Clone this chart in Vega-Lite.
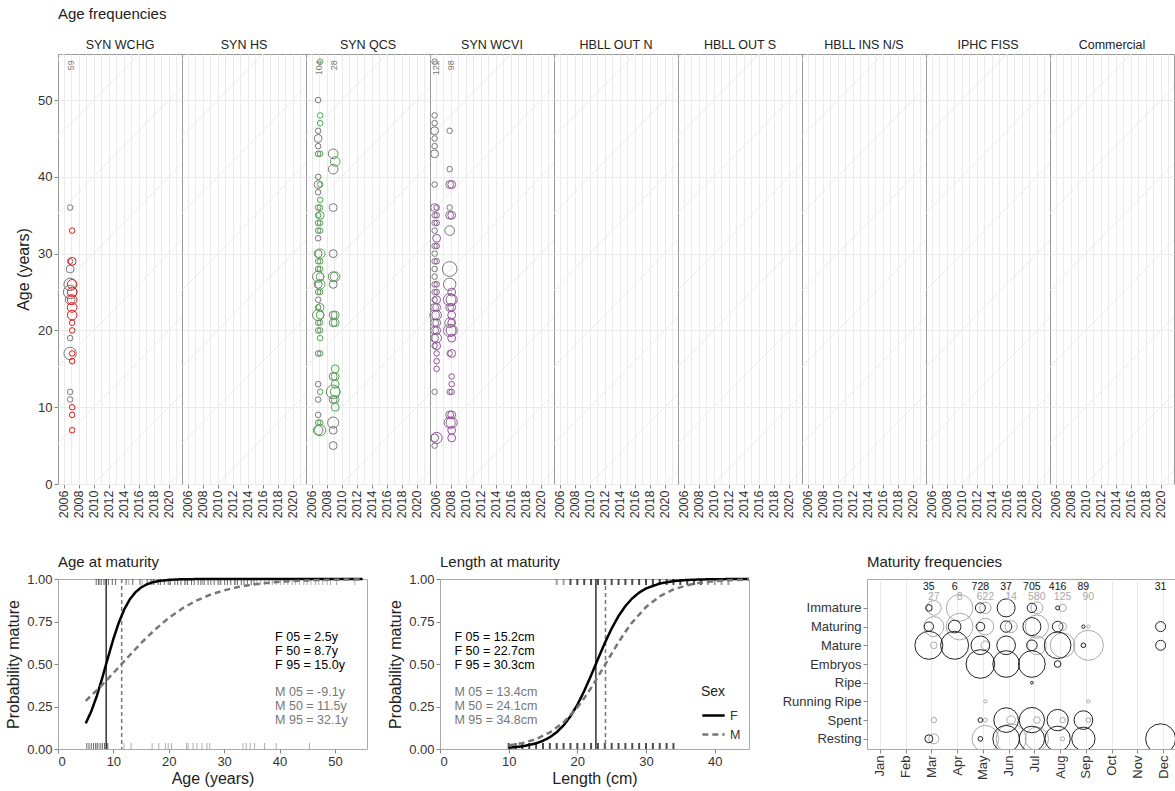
{
  "$schema": "https://vega.github.io/schema/vega-lite/v6.json",
  "background": "white",
  "padding": {"left": 5, "top": 6, "right": 0, "bottom": 0},
  "config": {
    "font": "Liberation Sans",
    "view": {"stroke": "#999999", "strokeWidth": 1},
    "axis": {"domain": false, "tickColor": "#888888", "tickSize": 4, "labelColor": "#333333", "labelFontSize": 13, "titleFontSize": 16, "titleFontWeight": "normal", "titleColor": "#222222", "gridColor": "#EBEBEB", "labelPadding": 2, "titlePadding": 5, "labelOverlap": false},
    "title": {"fontSize": 15, "fontWeight": "normal", "color": "#222222", "anchor": "start", "frame": "group", "offset": 3},
    "header": {"labelFontSize": 12.5, "labelColor": "#222222", "labelPadding": 3},
    "legend": {"symbolType": "stroke", "symbolStrokeWidth": 2.5, "symbolSize": 500, "labelFontSize": 12.5, "labelColor": "#333333", "titleFontSize": 14, "titleFontWeight": "normal", "titleColor": "#222222", "rowPadding": 0, "titlePadding": 4}
  },
  "datasets": {
    "ages": [
      {"s":"SYN HS"},{"s":"HBLL OUT N"},{"s":"HBLL OUT S"},{"s":"HBLL INS N/S"},{"s":"IPHC FISS"},{"s":"Commercial"},
      {"s":"SYN WCHG","year":2007,"total":59},
      {"s":"SYN QCS","year":2007,"total":104},
      {"s":"SYN QCS","year":2009,"total":28},
      {"s":"SYN WCVI","year":2006,"total":122},
      {"s":"SYN WCVI","year":2008,"total":98},
      {"s":"SYN WCHG","sex":"M","year":2007,"age":36,"n":1},
      {"s":"SYN WCHG","sex":"M","year":2007,"age":29,"n":1},
      {"s":"SYN WCHG","sex":"M","year":2007,"age":28,"n":2},
      {"s":"SYN WCHG","sex":"M","year":2007,"age":26,"n":5},
      {"s":"SYN WCHG","sex":"M","year":2007,"age":25,"n":6},
      {"s":"SYN WCHG","sex":"M","year":2007,"age":24,"n":3},
      {"s":"SYN WCHG","sex":"M","year":2007,"age":19,"n":1},
      {"s":"SYN WCHG","sex":"M","year":2007,"age":17,"n":5},
      {"s":"SYN WCHG","sex":"M","year":2007,"age":12,"n":1},
      {"s":"SYN WCHG","sex":"M","year":2007,"age":11,"n":1},
      {"s":"SYN WCHG","sex":"F","year":2007,"age":33,"n":1},
      {"s":"SYN WCHG","sex":"F","year":2007,"age":29,"n":2},
      {"s":"SYN WCHG","sex":"F","year":2007,"age":26,"n":3},
      {"s":"SYN WCHG","sex":"F","year":2007,"age":25,"n":3},
      {"s":"SYN WCHG","sex":"F","year":2007,"age":24,"n":3},
      {"s":"SYN WCHG","sex":"F","year":2007,"age":23,"n":3},
      {"s":"SYN WCHG","sex":"F","year":2007,"age":22,"n":3},
      {"s":"SYN WCHG","sex":"F","year":2007,"age":21,"n":1},
      {"s":"SYN WCHG","sex":"F","year":2007,"age":20,"n":1},
      {"s":"SYN WCHG","sex":"F","year":2007,"age":17,"n":1},
      {"s":"SYN WCHG","sex":"F","year":2007,"age":16,"n":1},
      {"s":"SYN WCHG","sex":"F","year":2007,"age":10,"n":1},
      {"s":"SYN WCHG","sex":"F","year":2007,"age":9,"n":1},
      {"s":"SYN WCHG","sex":"F","year":2007,"age":7,"n":1},
      {"s":"SYN QCS","sex":"M","year":2007,"age":50,"n":1},
      {"s":"SYN QCS","sex":"M","year":2007,"age":46,"n":1},
      {"s":"SYN QCS","sex":"M","year":2007,"age":45,"n":2},
      {"s":"SYN QCS","sex":"M","year":2007,"age":44,"n":1},
      {"s":"SYN QCS","sex":"M","year":2007,"age":43,"n":1},
      {"s":"SYN QCS","sex":"M","year":2007,"age":40,"n":1},
      {"s":"SYN QCS","sex":"M","year":2007,"age":39,"n":2},
      {"s":"SYN QCS","sex":"M","year":2007,"age":38,"n":1},
      {"s":"SYN QCS","sex":"M","year":2007,"age":36,"n":1},
      {"s":"SYN QCS","sex":"M","year":2007,"age":35,"n":1},
      {"s":"SYN QCS","sex":"M","year":2007,"age":34,"n":1},
      {"s":"SYN QCS","sex":"M","year":2007,"age":33,"n":1},
      {"s":"SYN QCS","sex":"M","year":2007,"age":32,"n":1},
      {"s":"SYN QCS","sex":"M","year":2007,"age":30,"n":2},
      {"s":"SYN QCS","sex":"M","year":2007,"age":29,"n":1},
      {"s":"SYN QCS","sex":"M","year":2007,"age":28,"n":1},
      {"s":"SYN QCS","sex":"M","year":2007,"age":27,"n":4},
      {"s":"SYN QCS","sex":"M","year":2007,"age":26,"n":2},
      {"s":"SYN QCS","sex":"M","year":2007,"age":25,"n":1},
      {"s":"SYN QCS","sex":"M","year":2007,"age":24,"n":1},
      {"s":"SYN QCS","sex":"M","year":2007,"age":23,"n":1},
      {"s":"SYN QCS","sex":"M","year":2007,"age":22,"n":4},
      {"s":"SYN QCS","sex":"M","year":2007,"age":21,"n":1},
      {"s":"SYN QCS","sex":"M","year":2007,"age":20,"n":1},
      {"s":"SYN QCS","sex":"M","year":2007,"age":17,"n":1},
      {"s":"SYN QCS","sex":"M","year":2007,"age":13,"n":1},
      {"s":"SYN QCS","sex":"M","year":2007,"age":11,"n":1},
      {"s":"SYN QCS","sex":"M","year":2007,"age":9,"n":1},
      {"s":"SYN QCS","sex":"M","year":2007,"age":8,"n":1},
      {"s":"SYN QCS","sex":"M","year":2007,"age":7,"n":3},
      {"s":"SYN QCS","sex":"F","year":2007,"age":55,"n":1},
      {"s":"SYN QCS","sex":"F","year":2007,"age":48,"n":1},
      {"s":"SYN QCS","sex":"F","year":2007,"age":47,"n":1},
      {"s":"SYN QCS","sex":"F","year":2007,"age":43,"n":1},
      {"s":"SYN QCS","sex":"F","year":2007,"age":39,"n":1},
      {"s":"SYN QCS","sex":"F","year":2007,"age":37,"n":1},
      {"s":"SYN QCS","sex":"F","year":2007,"age":36,"n":1},
      {"s":"SYN QCS","sex":"F","year":2007,"age":35,"n":2},
      {"s":"SYN QCS","sex":"F","year":2007,"age":34,"n":1},
      {"s":"SYN QCS","sex":"F","year":2007,"age":33,"n":1},
      {"s":"SYN QCS","sex":"F","year":2007,"age":30,"n":3},
      {"s":"SYN QCS","sex":"F","year":2007,"age":29,"n":1},
      {"s":"SYN QCS","sex":"F","year":2007,"age":28,"n":1},
      {"s":"SYN QCS","sex":"F","year":2007,"age":27,"n":2},
      {"s":"SYN QCS","sex":"F","year":2007,"age":26,"n":3},
      {"s":"SYN QCS","sex":"F","year":2007,"age":25,"n":1},
      {"s":"SYN QCS","sex":"F","year":2007,"age":23,"n":2},
      {"s":"SYN QCS","sex":"F","year":2007,"age":22,"n":2},
      {"s":"SYN QCS","sex":"F","year":2007,"age":21,"n":1},
      {"s":"SYN QCS","sex":"F","year":2007,"age":20,"n":1},
      {"s":"SYN QCS","sex":"F","year":2007,"age":19,"n":1},
      {"s":"SYN QCS","sex":"F","year":2007,"age":17,"n":1},
      {"s":"SYN QCS","sex":"F","year":2007,"age":12,"n":1},
      {"s":"SYN QCS","sex":"F","year":2007,"age":8,"n":1},
      {"s":"SYN QCS","sex":"F","year":2007,"age":7,"n":4},
      {"s":"SYN QCS","sex":"M","year":2009,"age":43,"n":3},
      {"s":"SYN QCS","sex":"M","year":2009,"age":41,"n":3},
      {"s":"SYN QCS","sex":"M","year":2009,"age":36,"n":2},
      {"s":"SYN QCS","sex":"M","year":2009,"age":30,"n":2},
      {"s":"SYN QCS","sex":"M","year":2009,"age":27,"n":3},
      {"s":"SYN QCS","sex":"M","year":2009,"age":26,"n":2},
      {"s":"SYN QCS","sex":"M","year":2009,"age":22,"n":2},
      {"s":"SYN QCS","sex":"M","year":2009,"age":21,"n":2},
      {"s":"SYN QCS","sex":"M","year":2009,"age":14,"n":2},
      {"s":"SYN QCS","sex":"M","year":2009,"age":12,"n":6},
      {"s":"SYN QCS","sex":"M","year":2009,"age":11,"n":2},
      {"s":"SYN QCS","sex":"M","year":2009,"age":8,"n":4},
      {"s":"SYN QCS","sex":"M","year":2009,"age":7,"n":2},
      {"s":"SYN QCS","sex":"M","year":2009,"age":5,"n":2},
      {"s":"SYN QCS","sex":"F","year":2009,"age":42,"n":3},
      {"s":"SYN QCS","sex":"F","year":2009,"age":27,"n":3},
      {"s":"SYN QCS","sex":"F","year":2009,"age":22,"n":2},
      {"s":"SYN QCS","sex":"F","year":2009,"age":21,"n":2},
      {"s":"SYN QCS","sex":"F","year":2009,"age":15,"n":2},
      {"s":"SYN QCS","sex":"F","year":2009,"age":14,"n":2},
      {"s":"SYN QCS","sex":"F","year":2009,"age":13,"n":2},
      {"s":"SYN QCS","sex":"F","year":2009,"age":12,"n":3},
      {"s":"SYN QCS","sex":"F","year":2009,"age":11,"n":2},
      {"s":"SYN QCS","sex":"F","year":2009,"age":10,"n":2},
      {"s":"SYN WCVI","sex":"M","year":2006,"age":55,"n":1},
      {"s":"SYN WCVI","sex":"M","year":2006,"age":48,"n":1},
      {"s":"SYN WCVI","sex":"M","year":2006,"age":47,"n":1},
      {"s":"SYN WCVI","sex":"M","year":2006,"age":46,"n":2},
      {"s":"SYN WCVI","sex":"M","year":2006,"age":45,"n":1},
      {"s":"SYN WCVI","sex":"M","year":2006,"age":44,"n":1},
      {"s":"SYN WCVI","sex":"M","year":2006,"age":43,"n":2},
      {"s":"SYN WCVI","sex":"M","year":2006,"age":39,"n":1},
      {"s":"SYN WCVI","sex":"M","year":2006,"age":36,"n":2},
      {"s":"SYN WCVI","sex":"M","year":2006,"age":35,"n":1},
      {"s":"SYN WCVI","sex":"M","year":2006,"age":34,"n":1},
      {"s":"SYN WCVI","sex":"M","year":2006,"age":33,"n":1},
      {"s":"SYN WCVI","sex":"M","year":2006,"age":31,"n":1},
      {"s":"SYN WCVI","sex":"M","year":2006,"age":30,"n":1},
      {"s":"SYN WCVI","sex":"M","year":2006,"age":29,"n":1},
      {"s":"SYN WCVI","sex":"M","year":2006,"age":28,"n":1},
      {"s":"SYN WCVI","sex":"M","year":2006,"age":27,"n":1},
      {"s":"SYN WCVI","sex":"M","year":2006,"age":26,"n":1},
      {"s":"SYN WCVI","sex":"M","year":2006,"age":25,"n":1},
      {"s":"SYN WCVI","sex":"M","year":2006,"age":24,"n":1},
      {"s":"SYN WCVI","sex":"M","year":2006,"age":23,"n":2},
      {"s":"SYN WCVI","sex":"M","year":2006,"age":22,"n":3},
      {"s":"SYN WCVI","sex":"M","year":2006,"age":21,"n":2},
      {"s":"SYN WCVI","sex":"M","year":2006,"age":20,"n":2},
      {"s":"SYN WCVI","sex":"M","year":2006,"age":19,"n":2},
      {"s":"SYN WCVI","sex":"M","year":2006,"age":18,"n":1},
      {"s":"SYN WCVI","sex":"M","year":2006,"age":12,"n":1},
      {"s":"SYN WCVI","sex":"M","year":2006,"age":6,"n":2},
      {"s":"SYN WCVI","sex":"M","year":2006,"age":5,"n":1},
      {"s":"SYN WCVI","sex":"F","year":2006,"age":36,"n":1},
      {"s":"SYN WCVI","sex":"F","year":2006,"age":35,"n":1},
      {"s":"SYN WCVI","sex":"F","year":2006,"age":34,"n":1},
      {"s":"SYN WCVI","sex":"F","year":2006,"age":32,"n":2},
      {"s":"SYN WCVI","sex":"F","year":2006,"age":31,"n":1},
      {"s":"SYN WCVI","sex":"F","year":2006,"age":29,"n":1},
      {"s":"SYN WCVI","sex":"F","year":2006,"age":26,"n":1},
      {"s":"SYN WCVI","sex":"F","year":2006,"age":25,"n":1},
      {"s":"SYN WCVI","sex":"F","year":2006,"age":24,"n":2},
      {"s":"SYN WCVI","sex":"F","year":2006,"age":23,"n":2},
      {"s":"SYN WCVI","sex":"F","year":2006,"age":22,"n":3},
      {"s":"SYN WCVI","sex":"F","year":2006,"age":21,"n":2},
      {"s":"SYN WCVI","sex":"F","year":2006,"age":20,"n":2},
      {"s":"SYN WCVI","sex":"F","year":2006,"age":19,"n":3},
      {"s":"SYN WCVI","sex":"F","year":2006,"age":18,"n":2},
      {"s":"SYN WCVI","sex":"F","year":2006,"age":17,"n":1},
      {"s":"SYN WCVI","sex":"F","year":2006,"age":16,"n":1},
      {"s":"SYN WCVI","sex":"F","year":2006,"age":15,"n":1},
      {"s":"SYN WCVI","sex":"F","year":2006,"age":6,"n":4},
      {"s":"SYN WCVI","sex":"M","year":2008,"age":46,"n":1},
      {"s":"SYN WCVI","sex":"M","year":2008,"age":41,"n":1},
      {"s":"SYN WCVI","sex":"M","year":2008,"age":39,"n":2},
      {"s":"SYN WCVI","sex":"M","year":2008,"age":36,"n":1},
      {"s":"SYN WCVI","sex":"M","year":2008,"age":35,"n":2},
      {"s":"SYN WCVI","sex":"M","year":2008,"age":33,"n":3},
      {"s":"SYN WCVI","sex":"M","year":2008,"age":28,"n":7},
      {"s":"SYN WCVI","sex":"M","year":2008,"age":26,"n":5},
      {"s":"SYN WCVI","sex":"M","year":2008,"age":24,"n":5},
      {"s":"SYN WCVI","sex":"M","year":2008,"age":23,"n":2},
      {"s":"SYN WCVI","sex":"M","year":2008,"age":21,"n":3},
      {"s":"SYN WCVI","sex":"M","year":2008,"age":20,"n":5},
      {"s":"SYN WCVI","sex":"M","year":2008,"age":17,"n":1},
      {"s":"SYN WCVI","sex":"M","year":2008,"age":12,"n":1},
      {"s":"SYN WCVI","sex":"M","year":2008,"age":9,"n":2},
      {"s":"SYN WCVI","sex":"M","year":2008,"age":8,"n":4},
      {"s":"SYN WCVI","sex":"F","year":2008,"age":39,"n":2},
      {"s":"SYN WCVI","sex":"F","year":2008,"age":35,"n":2},
      {"s":"SYN WCVI","sex":"F","year":2008,"age":25,"n":2},
      {"s":"SYN WCVI","sex":"F","year":2008,"age":24,"n":4},
      {"s":"SYN WCVI","sex":"F","year":2008,"age":23,"n":2},
      {"s":"SYN WCVI","sex":"F","year":2008,"age":22,"n":2},
      {"s":"SYN WCVI","sex":"F","year":2008,"age":21,"n":2},
      {"s":"SYN WCVI","sex":"F","year":2008,"age":20,"n":4},
      {"s":"SYN WCVI","sex":"F","year":2008,"age":19,"n":2},
      {"s":"SYN WCVI","sex":"F","year":2008,"age":17,"n":2},
      {"s":"SYN WCVI","sex":"F","year":2008,"age":14,"n":1},
      {"s":"SYN WCVI","sex":"F","year":2008,"age":13,"n":1},
      {"s":"SYN WCVI","sex":"F","year":2008,"age":12,"n":1},
      {"s":"SYN WCVI","sex":"F","year":2008,"age":9,"n":2},
      {"s":"SYN WCVI","sex":"F","year":2008,"age":8,"n":4},
      {"s":"SYN WCVI","sex":"F","year":2008,"age":7,"n":2},
      {"s":"SYN WCVI","sex":"F","year":2008,"age":6,"n":2}
    ],
    "cohorts": [
      {"c":1950,"x1":2005,"a1":55,"x2":2022,"a2":72},
      {"c":1960,"x1":2005,"a1":45,"x2":2022,"a2":62},
      {"c":1970,"x1":2005,"a1":35,"x2":2022,"a2":52},
      {"c":1980,"x1":2005,"a1":25,"x2":2022,"a2":42},
      {"c":1990,"x1":2005,"a1":15,"x2":2022,"a2":32},
      {"c":2000,"x1":2005,"a1":5,"x2":2022,"a2":22},
      {"c":2010,"x1":2005,"a1":-5,"x2":2022,"a2":12},
      {"c":2020,"x1":2005,"a1":-15,"x2":2022,"a2":2}
    ],
    "ageCurve": [
      {"sex":"F","x":5,"p":0.1507},{"sex":"F","x":6,"p":0.2207},{"sex":"F","x":7,"p":0.3112},{"sex":"F","x":8,"p":0.4189},{"sex":"F","x":9,"p":0.535},{"sex":"F","x":10,"p":0.6472},{"sex":"F","x":11,"p":0.7455},{"sex":"F","x":12,"p":0.8237},{"sex":"F","x":13,"p":0.8818},{"sex":"F","x":14,"p":0.9225},{"sex":"F","x":15,"p":0.95},{"sex":"F","x":16,"p":0.968},{"sex":"F","x":17,"p":0.9797},{"sex":"F","x":18,"p":0.9872},{"sex":"F","x":20,"p":0.9949},{"sex":"F","x":22,"p":0.998},{"sex":"F","x":25,"p":0.9995},{"sex":"F","x":30,"p":1},{"sex":"F","x":55,"p":1},
      {"sex":"M","x":5,"p":0.2831},{"sex":"M","x":7.5,"p":0.3609},{"sex":"M","x":10,"p":0.4466},{"sex":"M","x":12.5,"p":0.5357},{"sex":"M","x":15,"p":0.6225},{"sex":"M","x":17.5,"p":0.702},{"sex":"M","x":20,"p":0.7711},{"sex":"M","x":22.5,"p":0.828},{"sex":"M","x":25,"p":0.8731},{"sex":"M","x":27.5,"p":0.9077},{"sex":"M","x":30,"p":0.9336},{"sex":"M","x":32.5,"p":0.9527},{"sex":"M","x":35,"p":0.9664},{"sex":"M","x":37.5,"p":0.9762},{"sex":"M","x":40,"p":0.9833},{"sex":"M","x":42.5,"p":0.9882},{"sex":"M","x":45,"p":0.9917},{"sex":"M","x":47.5,"p":0.9942},{"sex":"M","x":50,"p":0.9959},{"sex":"M","x":52.5,"p":0.9972},{"sex":"M","x":55,"p":0.998}
    ],
    "lenCurve": [
      {"sex":"F","x":10,"p":0.0073},{"sex":"F","x":12,"p":0.0156},{"sex":"F","x":14,"p":0.0333},{"sex":"F","x":15,"p":0.0482},{"sex":"F","x":16,"p":0.0694},{"sex":"F","x":17,"p":0.099},{"sex":"F","x":18,"p":0.1393},{"sex":"F","x":19,"p":0.1926},{"sex":"F","x":20,"p":0.26},{"sex":"F","x":21,"p":0.3411},{"sex":"F","x":22,"p":0.4326},{"sex":"F","x":23,"p":0.529},{"sex":"F","x":24,"p":0.6233},{"sex":"F","x":25,"p":0.7091},{"sex":"F","x":26,"p":0.7822},{"sex":"F","x":27,"p":0.841},{"sex":"F","x":28,"p":0.8863},{"sex":"F","x":29,"p":0.9199},{"sex":"F","x":30,"p":0.9442},{"sex":"F","x":32,"p":0.9735},{"sex":"F","x":34,"p":0.9876},{"sex":"F","x":36,"p":0.9942},{"sex":"F","x":38,"p":0.9973},{"sex":"F","x":40,"p":0.9988},{"sex":"F","x":42,"p":0.9994},{"sex":"F","x":45,"p":0.9998},
      {"sex":"M","x":10,"p":0.0202},{"sex":"M","x":12,"p":0.0346},{"sex":"M","x":14,"p":0.0584},{"sex":"M","x":16,"p":0.0972},{"sex":"M","x":18,"p":0.1573},{"sex":"M","x":20,"p":0.2445},{"sex":"M","x":21,"p":0.2988},{"sex":"M","x":22,"p":0.3594},{"sex":"M","x":23,"p":0.4249},{"sex":"M","x":24,"p":0.4931},{"sex":"M","x":25,"p":0.5617},{"sex":"M","x":26,"p":0.6278},{"sex":"M","x":27,"p":0.6896},{"sex":"M","x":28,"p":0.7452},{"sex":"M","x":30,"p":0.8353},{"sex":"M","x":32,"p":0.8979},{"sex":"M","x":34,"p":0.9384},{"sex":"M","x":36,"p":0.9636},{"sex":"M","x":38,"p":0.9787},{"sex":"M","x":40,"p":0.9876},{"sex":"M","x":42,"p":0.9928},{"sex":"M","x":45,"p":0.9968}
    ],
    "ageRug": [
      {"sex":"F","p":1,"x":6.9},{"sex":"F","p":1,"x":7.3},{"sex":"F","p":1,"x":7.8},{"sex":"F","p":1,"x":8.3},{"sex":"F","p":1,"x":9.1},{"sex":"F","p":1,"x":9.8},{"sex":"F","p":1,"x":10.4},{"sex":"F","p":1,"x":12.3},{"sex":"F","p":1,"x":13.5},{"sex":"F","p":1,"x":14.8},{"sex":"F","p":1,"x":16.1},{"sex":"F","p":1,"x":16.8},{"sex":"F","p":1,"x":17.3},{"sex":"F","p":1,"x":18.1},{"sex":"F","p":1,"x":18.5},{"sex":"F","p":1,"x":19.2},{"sex":"F","p":1,"x":19.9},{"sex":"F","p":1,"x":20.3},{"sex":"F","p":1,"x":21.1},{"sex":"F","p":1,"x":21.6},{"sex":"F","p":1,"x":22.2},{"sex":"F","p":1,"x":22.9},{"sex":"F","p":1,"x":23.4},{"sex":"F","p":1,"x":24.1},{"sex":"F","p":1,"x":24.6},{"sex":"F","p":1,"x":25.3},{"sex":"F","p":1,"x":25.8},{"sex":"F","p":1,"x":26.4},{"sex":"F","p":1,"x":27.1},{"sex":"F","p":1,"x":27.6},{"sex":"F","p":1,"x":28.2},{"sex":"F","p":1,"x":28.9},{"sex":"F","p":1,"x":29.4},{"sex":"F","p":1,"x":30.1},{"sex":"F","p":1,"x":30.6},{"sex":"F","p":1,"x":31.2},{"sex":"F","p":1,"x":31.9},{"sex":"F","p":1,"x":32.4},{"sex":"F","p":1,"x":33.1},{"sex":"F","p":1,"x":33.6},{"sex":"F","p":1,"x":34.2},{"sex":"F","p":1,"x":34.9},{"sex":"F","p":1,"x":35.4},
      {"sex":"M","p":1,"x":7.5},{"sex":"M","p":1,"x":8.7},{"sex":"M","p":1,"x":12.8},{"sex":"M","p":1,"x":15.2},{"sex":"M","p":1,"x":17.1},{"sex":"M","p":1,"x":20.1},{"sex":"M","p":1,"x":23.1},{"sex":"M","p":1,"x":26.1},{"sex":"M","p":1,"x":29.1},{"sex":"M","p":1,"x":32.1},{"sex":"M","p":1,"x":35.9},{"sex":"M","p":1,"x":36.6},{"sex":"M","p":1,"x":37.3},{"sex":"M","p":1,"x":38.1},{"sex":"M","p":1,"x":38.7},{"sex":"M","p":1,"x":39.4},{"sex":"M","p":1,"x":40.2},{"sex":"M","p":1,"x":40.8},{"sex":"M","p":1,"x":41.5},{"sex":"M","p":1,"x":42.3},{"sex":"M","p":1,"x":42.9},{"sex":"M","p":1,"x":43.6},{"sex":"M","p":1,"x":44.4},{"sex":"M","p":1,"x":45.0},{"sex":"M","p":1,"x":45.7},{"sex":"M","p":1,"x":46.5},{"sex":"M","p":1,"x":47.1},{"sex":"M","p":1,"x":47.8},{"sex":"M","p":1,"x":48.6},{"sex":"M","p":1,"x":49.2},{"sex":"M","p":1,"x":50.3},{"sex":"M","p":1,"x":53.6},
      {"sex":"F","p":0,"x":5.2},{"sex":"F","p":0,"x":5.6},{"sex":"F","p":0,"x":6.0},{"sex":"F","p":0,"x":6.4},{"sex":"F","p":0,"x":6.8},{"sex":"F","p":0,"x":7.2},{"sex":"F","p":0,"x":7.6},{"sex":"F","p":0,"x":8.0},{"sex":"F","p":0,"x":8.4},{"sex":"F","p":0,"x":8.8},{"sex":"F","p":0,"x":9.0},
      {"sex":"M","p":0,"x":7.0},{"sex":"M","p":0,"x":8.0},{"sex":"M","p":0,"x":11.9},{"sex":"M","p":0,"x":13.2},{"sex":"M","p":0,"x":17.0},{"sex":"M","p":0,"x":18.2},{"sex":"M","p":0,"x":19.4},{"sex":"M","p":0,"x":19.9},{"sex":"M","p":0,"x":20.5},{"sex":"M","p":0,"x":23.2},{"sex":"M","p":0,"x":23.5},{"sex":"M","p":0,"x":24.4},{"sex":"M","p":0,"x":25.1},{"sex":"M","p":0,"x":26.0},{"sex":"M","p":0,"x":26.9},{"sex":"M","p":0,"x":27.4},{"sex":"M","p":0,"x":33.4},{"sex":"M","p":0,"x":34.0},{"sex":"M","p":0,"x":34.7},{"sex":"M","p":0,"x":35.5},{"sex":"M","p":0,"x":37.3},{"sex":"M","p":0,"x":39.4},{"sex":"M","p":0,"x":45.4}
    ],
    "lenRug": [
      {"sex":"F","p":1,"x":19},{"sex":"F","p":1,"x":20},{"sex":"F","p":1,"x":21},{"sex":"F","p":1,"x":22},{"sex":"F","p":1,"x":23},{"sex":"F","p":1,"x":24},{"sex":"F","p":1,"x":25},{"sex":"F","p":1,"x":26},{"sex":"F","p":1,"x":27},{"sex":"F","p":1,"x":28},{"sex":"F","p":1,"x":29},{"sex":"F","p":1,"x":30},{"sex":"F","p":1,"x":31},{"sex":"F","p":1,"x":32},{"sex":"F","p":1,"x":33},{"sex":"F","p":1,"x":34},{"sex":"F","p":1,"x":35},{"sex":"F","p":1,"x":36},{"sex":"F","p":1,"x":37},{"sex":"F","p":1,"x":38},
      {"sex":"M","p":1,"x":17},{"sex":"M","p":1,"x":18},{"sex":"M","p":1,"x":39},{"sex":"M","p":1,"x":40},{"sex":"M","p":1,"x":41},{"sex":"M","p":1,"x":42},
      {"sex":"F","p":0,"x":10},{"sex":"F","p":0,"x":11},{"sex":"F","p":0,"x":12},{"sex":"F","p":0,"x":13},{"sex":"F","p":0,"x":14},{"sex":"F","p":0,"x":15},{"sex":"F","p":0,"x":16},{"sex":"F","p":0,"x":17},{"sex":"F","p":0,"x":18},{"sex":"F","p":0,"x":19},{"sex":"F","p":0,"x":20},{"sex":"F","p":0,"x":21},{"sex":"F","p":0,"x":22},{"sex":"F","p":0,"x":23},{"sex":"F","p":0,"x":24},{"sex":"F","p":0,"x":25},{"sex":"F","p":0,"x":26},{"sex":"F","p":0,"x":27},{"sex":"F","p":0,"x":28},{"sex":"F","p":0,"x":29},{"sex":"F","p":0,"x":30},{"sex":"F","p":0,"x":31},{"sex":"F","p":0,"x":32},{"sex":"F","p":0,"x":33},{"sex":"F","p":0,"x":34}
    ],
    "ageV": [{"sex":"F","x":8.7},{"sex":"M","x":11.5}],
    "lenV": [{"sex":"F","x":22.7},{"sex":"M","x":24.1}],
    "ageAnn": [
      {"sex":"F","x":39.2,"p":0.66,"label":"F 05 = 2.5y"},
      {"sex":"F","x":39.2,"p":0.578,"label":"F 50 = 8.7y"},
      {"sex":"F","x":39.2,"p":0.496,"label":"F 95 = 15.0y"},
      {"sex":"M","x":39.2,"p":0.335,"label":"M 05 = -9.1y"},
      {"sex":"M","x":39.2,"p":0.253,"label":"M 50 = 11.5y"},
      {"sex":"M","x":39.2,"p":0.171,"label":"M 95 = 32.1y"}
    ],
    "lenAnn": [
      {"sex":"F","x":2.1,"p":0.66,"label":"F 05 = 15.2cm"},
      {"sex":"F","x":2.1,"p":0.578,"label":"F 50 = 22.7cm"},
      {"sex":"F","x":2.1,"p":0.496,"label":"F 95 = 30.3cm"},
      {"sex":"M","x":2.1,"p":0.335,"label":"M 05 = 13.4cm"},
      {"sex":"M","x":2.1,"p":0.253,"label":"M 50 = 24.1cm"},
      {"sex":"M","x":2.1,"p":0.171,"label":"M 95 = 34.8cm"}
    ],
    "matc": [
      {"m":3,"sex":"M","stage":"Immature","prop":0.239},{"m":3,"sex":"M","stage":"Maturing","prop":0.444},{"m":3,"sex":"M","stage":"Mature","prop":0.049},{"m":3,"sex":"M","stage":"Spent","prop":0.032},{"m":3,"sex":"M","stage":"Resting","prop":0.111},
      {"m":4,"sex":"M","stage":"Immature","prop":0.79},{"m":4,"sex":"M","stage":"Maturing","prop":0.79},
      {"m":5,"sex":"M","stage":"Immature","prop":0.143},{"m":5,"sex":"M","stage":"Maturing","prop":0.309},{"m":5,"sex":"M","stage":"Mature","prop":0.083},{"m":5,"sex":"M","stage":"Running Ripe","prop":0.012},{"m":5,"sex":"M","stage":"Spent","prop":0.018},{"m":5,"sex":"M","stage":"Resting","prop":0.79},
      {"m":6,"sex":"M","stage":"Maturing","prop":0.16},{"m":6,"sex":"M","stage":"Spent","prop":0.083},{"m":6,"sex":"M","stage":"Resting","prop":1.0},
      {"m":7,"sex":"M","stage":"Immature","prop":0.16},{"m":7,"sex":"M","stage":"Maturing","prop":0.605},{"m":7,"sex":"M","stage":"Mature","prop":0.387},{"m":7,"sex":"M","stage":"Spent","prop":0.049},{"m":7,"sex":"M","stage":"Resting","prop":0.605},
      {"m":8,"sex":"M","stage":"Immature","prop":0.06},{"m":8,"sex":"M","stage":"Maturing","prop":0.071},{"m":8,"sex":"M","stage":"Mature","prop":0.676},{"m":8,"sex":"M","stage":"Spent","prop":0.032},{"m":8,"sex":"M","stage":"Resting","prop":0.018},
      {"m":9,"sex":"M","stage":"Maturing","prop":0.012},{"m":9,"sex":"M","stage":"Mature","prop":1.0},{"m":9,"sex":"M","stage":"Running Ripe","prop":0.012},{"m":9,"sex":"M","stage":"Spent","prop":0.024},
      {"m":3,"sex":"F","stage":"Immature","prop":0.049},{"m":3,"sex":"F","stage":"Maturing","prop":0.097},{"m":3,"sex":"F","stage":"Mature","prop":0.871},{"m":3,"sex":"F","stage":"Resting","prop":0.071},
      {"m":4,"sex":"F","stage":"Maturing","prop":0.178},{"m":4,"sex":"F","stage":"Mature","prop":0.871},
      {"m":5,"sex":"F","stage":"Immature","prop":0.111},{"m":5,"sex":"F","stage":"Maturing","prop":0.083},{"m":5,"sex":"F","stage":"Mature","prop":0.387},{"m":5,"sex":"F","stage":"Embryos","prop":0.913},{"m":5,"sex":"F","stage":"Spent","prop":0.024},{"m":5,"sex":"F","stage":"Resting","prop":0.024},
      {"m":6,"sex":"F","stage":"Immature","prop":0.36},{"m":6,"sex":"F","stage":"Maturing","prop":0.143},{"m":6,"sex":"F","stage":"Mature","prop":0.387},{"m":6,"sex":"F","stage":"Embryos","prop":0.79},{"m":6,"sex":"F","stage":"Spent","prop":0.676},{"m":6,"sex":"F","stage":"Resting","prop":0.79},
      {"m":7,"sex":"F","stage":"Immature","prop":0.097},{"m":7,"sex":"F","stage":"Maturing","prop":0.36},{"m":7,"sex":"F","stage":"Mature","prop":0.126},{"m":7,"sex":"F","stage":"Embryos","prop":0.79},{"m":7,"sex":"F","stage":"Ripe","prop":0.008},{"m":7,"sex":"F","stage":"Spent","prop":0.713},{"m":7,"sex":"F","stage":"Resting","prop":0.713},
      {"m":8,"sex":"F","stage":"Immature","prop":0.018},{"m":8,"sex":"F","stage":"Maturing","prop":0.126},{"m":8,"sex":"F","stage":"Mature","prop":0.79},{"m":8,"sex":"F","stage":"Embryos","prop":0.049},{"m":8,"sex":"F","stage":"Spent","prop":0.506},{"m":8,"sex":"F","stage":"Resting","prop":0.713},
      {"m":9,"sex":"F","stage":"Maturing","prop":0.012},{"m":9,"sex":"F","stage":"Mature","prop":0.024},{"m":9,"sex":"F","stage":"Spent","prop":0.387},{"m":9,"sex":"F","stage":"Resting","prop":0.605},
      {"m":12,"sex":"F","stage":"Maturing","prop":0.111},{"m":12,"sex":"F","stage":"Mature","prop":0.111},{"m":12,"sex":"F","stage":"Resting","prop":1.0}
    ],
    "matn": [
      {"m":3,"sex":"F","n":35},{"m":4,"sex":"F","n":6},{"m":5,"sex":"F","n":728},{"m":6,"sex":"F","n":37},{"m":7,"sex":"F","n":705},{"m":8,"sex":"F","n":416},{"m":9,"sex":"F","n":89},{"m":12,"sex":"F","n":31},
      {"m":3,"sex":"M","n":27},{"m":4,"sex":"M","n":8},{"m":5,"sex":"M","n":622},{"m":6,"sex":"M","n":14},{"m":7,"sex":"M","n":580},{"m":8,"sex":"M","n":125},{"m":9,"sex":"M","n":90}
    ]
  },
  "vconcat": [
    {
      "title": {"text": "Age frequencies", "offset": 17},
      "data": {"name": "ages"},
      "facet": {"column": {"field": "s", "type": "nominal", "sort": ["SYN WCHG","SYN HS","SYN QCS","SYN WCVI","HBLL OUT N","HBLL OUT S","HBLL INS N/S","IPHC FISS","Commercial"], "header": {"title": null}}},
      "spacing": 0,
      "bounds": "flush",
      "spec": {
        "width": 124,
        "height": 430,
        "layer": [
          {
            "data": {"name": "cohorts"},
            "mark": {"type": "rule", "clip": true, "color": "#EBEBEB", "strokeWidth": 1},
            "encoding": {
              "x": {"field": "x1", "type": "quantitative", "scale": {"domain": [2005.25, 2021.75], "nice": false, "zero": false},
                    "axis": {"values": [2006,2007,2008,2009,2010,2011,2012,2013,2014,2015,2016,2017,2018,2019,2020,2021], "tickCount": 100, "format": "d", "labelExpr": "datum.value % 2 == 0 ? datum.label : ''", "labelAngle": 270, "labelFontSize": 12.5, "labelOverlap": false, "labelBound": false, "labelFlush": false, "title": null, "grid": true, "tickOpacity": {"condition": {"test": "datum.value % 2 == 0", "value": 1}, "value": 0}}},
              "y": {"field": "a1", "type": "quantitative", "scale": {"domain": [0, 56], "nice": false, "zero": false},
                    "axis": {"values": [0,10,20,30,40,50], "tickCount": 100, "format": "d", "title": "Age (years)", "grid": true, "titlePadding": 6}},
              "x2": {"field": "x2"},
              "y2": {"field": "a2"}
            }
          },
          {
            "transform": [{"filter": "datum.sex == 'M'"}],
            "mark": {"type": "point", "shape": "circle", "filled": false, "color": "#7A7A7A", "strokeWidth": 1, "opacity": 1, "xOffset": -1},
            "encoding": {
              "x": {"field": "year", "type": "quantitative"},
              "y": {"field": "age", "type": "quantitative"},
              "size": {"field": "n", "type": "quantitative", "scale": {"domain": [0, 8], "range": [0, 248], "zero": true}, "legend": null}
            }
          },
          {
            "transform": [{"filter": "datum.sex == 'F'"}],
            "mark": {"type": "point", "shape": "circle", "filled": false, "strokeWidth": 1, "opacity": 1, "xOffset": 1},
            "encoding": {
              "x": {"field": "year", "type": "quantitative"},
              "y": {"field": "age", "type": "quantitative"},
              "size": {"field": "n", "type": "quantitative", "legend": null},
              "color": {"field": "s", "type": "nominal", "scale": {"domain": ["SYN WCHG","SYN QCS","SYN WCVI"], "range": ["#E41A1C","#4DAF4A","#984EA3"]}, "legend": null}
            }
          },
          {
            "transform": [{"filter": "datum.total != null"}],
            "mark": {"type": "text", "angle": 270, "align": "right", "baseline": "middle", "fontSize": 9, "color": "#777777"},
            "encoding": {
              "x": {"field": "year", "type": "quantitative"},
              "y": {"datum": 55.2},
              "text": {"field": "total"}
            }
          }
        ]
      }
    },
    {
      "hconcat": [
        {
          "title": {"text": "Age at maturity"},
          "width": 309,
          "height": 170,
          "view": {"stroke": "#AAAAAA"},
          "layer": [
            {
              "data": {"name": "ageRug"},
              "transform": [{"filter": "datum.p == 1"}],
              "mark": {"type": "tick", "orient": "vertical", "size": 6, "thickness": 1, "yOffset": 3, "opacity": 0.6},
              "encoding": {
                "x": {"field": "x", "type": "quantitative", "scale": {"domain": [0, 55.8], "nice": false, "zero": false}, "axis": {"values": [0,10,20,30,40,50], "tickCount": 100, "format": "d", "title": "Age (years)", "grid": false, "titlePadding": 2}},
                "y": {"field": "p", "type": "quantitative", "scale": {"domain": [0, 1], "nice": false}, "axis": {"values": [0,0.25,0.5,0.75,1], "tickCount": 100, "format": ".2f", "title": "Probability mature", "grid": false}},
                "color": {"condition": {"test": "datum.sex == 'M'", "value": "#777777"}, "value": "#000000"}
              }
            },
            {
              "data": {"name": "ageRug"},
              "transform": [{"filter": "datum.p == 0"}],
              "mark": {"type": "tick", "orient": "vertical", "size": 6, "thickness": 1, "yOffset": -3, "opacity": 0.6},
              "encoding": {
                "x": {"field": "x", "type": "quantitative"},
                "y": {"field": "p", "type": "quantitative"},
                "color": {"condition": {"test": "datum.sex == 'M'", "value": "#777777"}, "value": "#000000"}
              }
            },
            {
              "data": {"name": "ageV"},
              "mark": {"type": "rule", "strokeWidth": 1.5},
              "encoding": {
                "x": {"field": "x", "type": "quantitative"},
                "color": {"condition": {"test": "datum.sex == 'M'", "value": "#777777"}, "value": "#333333"},
                "strokeDash": {"condition": {"test": "datum.sex == 'M'", "value": [4, 3]}, "value": [1, 0]}
              }
            },
            {
              "data": {"name": "ageCurve"},
              "mark": {"type": "line", "strokeWidth": 2.5},
              "encoding": {
                "x": {"field": "x", "type": "quantitative"},
                "y": {"field": "p", "type": "quantitative"},
                "color": {"field": "sex", "type": "nominal", "scale": {"domain": ["F","M"], "range": ["#000000","#777777"]}, "legend": null},
                "strokeDash": {"field": "sex", "type": "nominal", "scale": {"domain": ["F","M"], "range": [[1,0],[6,4]]}, "legend": null}
              }
            },
            {
              "data": {"name": "ageAnn"},
              "mark": {"type": "text", "align": "left", "baseline": "middle", "fontSize": 12.5},
              "encoding": {
                "x": {"field": "x", "type": "quantitative"},
                "y": {"field": "p", "type": "quantitative"},
                "text": {"field": "label"},
                "color": {"condition": {"test": "datum.sex == 'M'", "value": "#777777"}, "value": "#000000"}
              }
            }
          ]
        },
        {
          "title": {"text": "Length at maturity"},
          "width": 309,
          "height": 170,
          "view": {"stroke": "#AAAAAA"},
          "layer": [
            {
              "data": {"name": "lenRug"},
              "transform": [{"filter": "datum.p == 1"}],
              "mark": {"type": "tick", "orient": "vertical", "size": 6, "thickness": 2, "yOffset": 3, "opacity": 0.7},
              "encoding": {
                "x": {"field": "x", "type": "quantitative", "scale": {"domain": [0, 45], "nice": false, "zero": false}, "axis": {"values": [0,10,20,30,40], "tickCount": 100, "format": "d", "title": "Length (cm)", "grid": false, "titlePadding": 2}},
                "y": {"field": "p", "type": "quantitative", "scale": {"domain": [0, 1], "nice": false}, "axis": {"values": [0,0.25,0.5,0.75,1], "tickCount": 100, "format": ".2f", "title": "Probability mature", "grid": false}},
                "color": {"condition": {"test": "datum.sex == 'M'", "value": "#777777"}, "value": "#000000"}
              }
            },
            {
              "data": {"name": "lenRug"},
              "transform": [{"filter": "datum.p == 0"}],
              "mark": {"type": "tick", "orient": "vertical", "size": 6, "thickness": 2, "yOffset": -3, "opacity": 0.7},
              "encoding": {
                "x": {"field": "x", "type": "quantitative"},
                "y": {"field": "p", "type": "quantitative"},
                "color": {"condition": {"test": "datum.sex == 'M'", "value": "#777777"}, "value": "#000000"}
              }
            },
            {
              "data": {"name": "lenV"},
              "mark": {"type": "rule", "strokeWidth": 1.5},
              "encoding": {
                "x": {"field": "x", "type": "quantitative"},
                "color": {"condition": {"test": "datum.sex == 'M'", "value": "#777777"}, "value": "#333333"},
                "strokeDash": {"condition": {"test": "datum.sex == 'M'", "value": [4, 3]}, "value": [1, 0]}
              }
            },
            {
              "data": {"name": "lenCurve"},
              "mark": {"type": "line", "strokeWidth": 2.5},
              "encoding": {
                "x": {"field": "x", "type": "quantitative"},
                "y": {"field": "p", "type": "quantitative"},
                "color": {"field": "sex", "type": "nominal", "scale": {"domain": ["F","M"], "range": ["#000000","#777777"]}, "legend": {"title": "Sex", "orient": "bottom-right", "offset": 8}},
                "strokeDash": {"field": "sex", "type": "nominal", "scale": {"domain": ["F","M"], "range": [[1,0],[6,4]]}, "legend": {"title": "Sex", "orient": "bottom-right", "offset": 8}}
              }
            },
            {
              "data": {"name": "lenAnn"},
              "mark": {"type": "text", "align": "left", "baseline": "middle", "fontSize": 12.5},
              "encoding": {
                "x": {"field": "x", "type": "quantitative"},
                "y": {"field": "p", "type": "quantitative"},
                "text": {"field": "label"},
                "color": {"condition": {"test": "datum.sex == 'M'", "value": "#777777"}, "value": "#000000"}
              }
            }
          ]
        },
        {
          "title": {"text": "Maturity frequencies", "offset": 9},
          "width": 309,
          "height": 170,
          "view": {"stroke": "#AAAAAA"},
          "layer": [
            {
              "data": {"name": "matc"},
              "transform": [{"filter": "datum.sex == 'M'"}],
              "mark": {"type": "point", "shape": "circle", "filled": false, "strokeWidth": 1, "color": "#AAAAAA", "opacity": 1, "xOffset": 2.5, "clip": true},
              "encoding": {
                "x": {"field": "m", "type": "quantitative", "scale": {"domain": [0.5, 12.5], "nice": false, "zero": false},
                      "axis": {"values": [1,2,3,4,5,6,7,8,9,10,11,12], "tickCount": 100, "labelExpr": "['Jan','Feb','Mar','Apr','May','Jun','Jul','Aug','Sep','Oct','Nov','Dec'][datum.value - 1]", "labelAngle": 270, "labelOverlap": false, "labelBound": false, "title": null, "grid": true}},
                "y": {"field": "stage", "type": "nominal", "scale": {"type": "point", "domain": ["N","Immature","Maturing","Mature","Embryos","Ripe","Running Ripe","Spent","Resting"], "padding": 0.545},
                      "axis": {"values": ["Immature","Maturing","Mature","Embryos","Ripe","Running Ripe","Spent","Resting"], "title": null, "grid": false, "minExtent": 93}},
                "size": {"field": "prop", "type": "quantitative", "scale": {"domain": [0, 1], "range": [0, 900], "zero": true}, "legend": null}
              }
            },
            {
              "data": {"name": "matc"},
              "transform": [{"filter": "datum.sex == 'F'"}],
              "mark": {"type": "point", "shape": "circle", "filled": false, "strokeWidth": 1, "color": "#222222", "opacity": 1, "xOffset": -2.5, "clip": true},
              "encoding": {
                "x": {"field": "m", "type": "quantitative"},
                "y": {"field": "stage", "type": "nominal"},
                "size": {"field": "prop", "type": "quantitative", "legend": null}
              }
            },
            {
              "data": {"name": "matn"},
              "transform": [{"filter": "datum.sex == 'F'"}],
              "mark": {"type": "text", "fontSize": 10.5, "color": "#111111", "xOffset": -2.5, "dy": -2, "baseline": "middle"},
              "encoding": {
                "x": {"field": "m", "type": "quantitative"},
                "y": {"datum": "N", "type": "nominal"},
                "text": {"field": "n"}
              }
            },
            {
              "data": {"name": "matn"},
              "transform": [{"filter": "datum.sex == 'M'"}],
              "mark": {"type": "text", "fontSize": 10.5, "color": "#AAAAAA", "xOffset": 2.5, "dy": 8, "baseline": "middle"},
              "encoding": {
                "x": {"field": "m", "type": "quantitative"},
                "y": {"datum": "N", "type": "nominal"},
                "text": {"field": "n"}
              }
            }
          ]
        }
      ],
      "spacing": 18,
      "resolve": {"scale": {"color": "independent", "strokeDash": "independent", "size": "independent", "x": "independent", "y": "independent"}}
    }
  ],
  "spacing": 36,
  "resolve": {"scale": {"color": "independent", "size": "independent", "strokeDash": "independent", "x": "independent", "y": "independent"}}
}
